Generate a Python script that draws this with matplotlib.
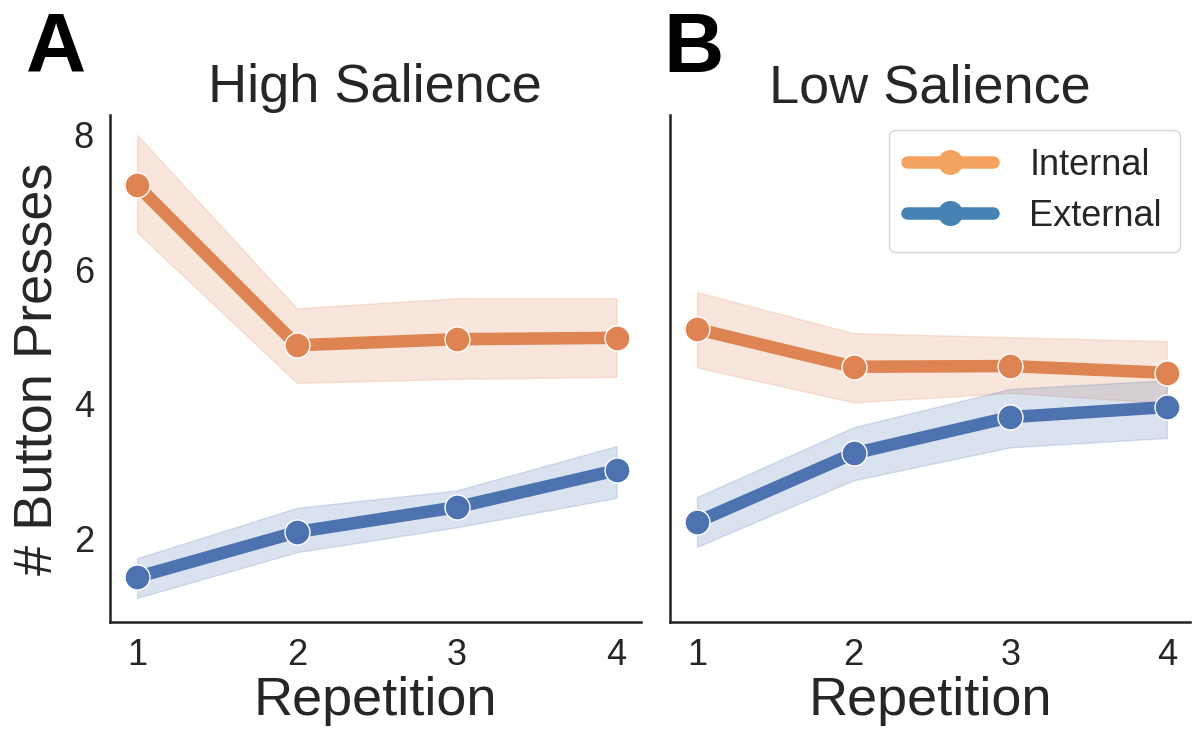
import matplotlib
matplotlib.use('Agg')
import matplotlib.pyplot as plt
from matplotlib.lines import Line2D
import seaborn as sns

sns.set_style('white')
plt.rcParams['font.family'] = ['Liberation Sans', 'DejaVu Sans']

# Data
reps = [1, 2, 3, 4]

high_int = [7.25, 4.87, 4.96, 4.98]
high_int_lo = [6.55, 4.31, 4.37, 4.40]
high_int_hi = [8.00, 5.42, 5.57, 5.57]
high_ext = [1.42, 2.09, 2.46, 3.01]
high_ext_lo = [1.11, 1.79, 2.16, 2.60]
high_ext_hi = [1.70, 2.45, 2.71, 3.37]

low_int = [5.11, 4.55, 4.56, 4.46]
low_int_lo = [4.54, 4.02, 4.16, 4.01]
low_int_hi = [5.66, 5.05, 4.99, 4.93]
low_ext = [2.24, 3.26, 3.80, 3.95]
low_ext_lo = [1.87, 2.86, 3.35, 3.49]
low_ext_hi = [2.61, 3.65, 4.22, 4.35]

orange = '#DD8452'
blue = '#4C72B0'

fig = plt.figure(figsize=(11.95, 7.31), dpi=100)
axA = fig.add_axes([0.092, 0.149, 0.444, 0.694])
axB = fig.add_axes([0.561, 0.149, 0.435, 0.694])

panels = [
    (axA, 'High Salience', high_int, high_int_lo, high_int_hi, high_ext, high_ext_lo, high_ext_hi),
    (axB, 'Low Salience', low_int, low_int_lo, low_int_hi, low_ext, low_ext_lo, low_ext_hi),
]

for ax, title, yi, yil, yih, ye, yel, yeh in panels:
    for y, lo, hi, c in [(yi, yil, yih, orange), (ye, yel, yeh, blue)]:
        ax.fill_between(reps, lo, hi, color=c, alpha=0.2, linewidth=1)
        ax.plot(reps, y, color=c, linewidth=9, marker='o', markersize=18,
                markeredgecolor='white', markeredgewidth=1)
    ax.set_title(title, fontsize=39, pad=9)
    ax.set_xlabel('Repetition', fontsize=39, labelpad=2)
    ax.set_xticks(reps)
    ax.set_xlim(0.83, 4.15)
    ax.set_ylim(0.75, 8.3)
    ax.set_yticks([2, 4, 6, 8])
    ax.tick_params(labelsize=26, pad=8)
    for s in ['top', 'right']:
        ax.spines[s].set_visible(False)
    for s in ['left', 'bottom']:
        ax.spines[s].set_color('#222222')
        ax.spines[s].set_linewidth(1.8)

axA.set_ylabel('# Button Presses', fontsize=39, labelpad=8)
axB.set_yticklabels([])

handles = [
    Line2D([], [], color='#F4A460', linewidth=9, marker='o', markersize=17),
    Line2D([], [], color='#4682B4', linewidth=9, marker='o', markersize=17),
]
axB.legend(handles, ['Internal', 'External'], loc='upper right', fontsize=26,
           handlelength=2.4, borderpad=0.5, labelspacing=0.45, handletextpad=1.0,
           frameon=True, bbox_to_anchor=(1.015, 1.006))

fig.text(0.022, 0.985, 'A', fontsize=60, fontweight='bold', va='top', color='black')
fig.text(0.555, 0.985, 'B', fontsize=60, fontweight='bold', va='top', color='black')

fig.savefig('out.png', dpi=100)
